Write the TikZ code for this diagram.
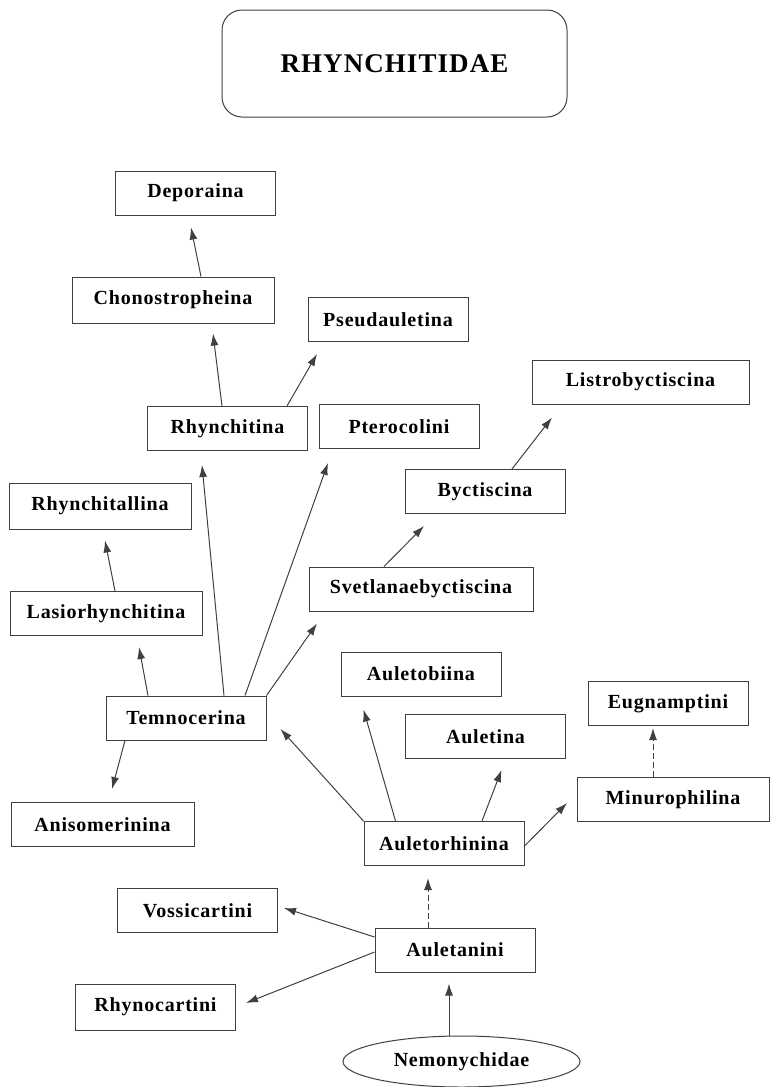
\documentclass[tikz,border=0pt]{standalone}
\usepackage{fontspec}
\setmainfont[LetterSpace=4]{Liberation Serif}
\usepackage{tikz}
\usetikzlibrary{calc,arrows.meta,shapes.geometric}
\tikzset{
    taxon/.style={draw=black!75, line width=0.5pt, minimum width=80pt, minimum height=22pt,
        inner sep=0pt, font=\fontsize{10}{12}\selectfont\bfseries},
    family/.style={taxon, ellipse, minimum width=118.5pt, minimum height=25.5pt},
    link/.style={draw=black!75, line width=0.5pt, -{Latex[length=6pt,width=4pt]}},
    maybe/.style={link, dash pattern=on 3pt off 1.5pt},
}
\begin{document}
\begin{tikzpicture}[x=0.5pt, y=-0.5pt]
\useasboundingbox (0,0) rectangle (771,1087);
\node[taxon, rounded corners=10pt, minimum width=172.5pt, minimum height=53.5pt,
    font=\fontsize{13.5}{16}\selectfont\bfseries] (fam) at (394.5,63.5) {RHYNCHITIDAE};
% upper part of the tree
\node[taxon] (dep) at (195.5,193) {Deporaina};
\node[taxon, minimum width=101pt, minimum height=23pt] (chono) at (173,300) {Chonostropheina};
\node[taxon] (pseud) at (388,319.5) {Pseudauletina};
\node[taxon, minimum width=108.5pt] (listro) at (640.5,382) {Listrobyctiscina};
\node[taxon] (rhy) at (227.5,428.5) {Rhynchitina};
\node[taxon] (ptero) at (399,426.5) {Pterocolini};
\node[taxon, minimum width=91pt, minimum height=23pt] (rhall) at (100,506) {Rhynchitallina};
\node[taxon] (byct) at (485,491.5) {Byctiscina};
\node[taxon, minimum width=112pt] (svet) at (421,589) {Svetlanaebyctiscina};
\node[taxon, minimum width=96pt] (lasio) at (106,613.5) {Lasiorhynchitina};
\node[taxon] (aulb) at (421,674) {Auletobiina};
\node[taxon] (eug) at (668,703.5) {Eugnamptini};
\node[taxon] (temn) at (186,718) {Temnocerina};
\node[taxon] (auletina) at (485.5,736.5) {Auletina};
\node[taxon, minimum width=96pt] (minur) at (673,799.5) {Minurophilina};
\node[taxon, minimum width=91.5pt] (aniso) at (102.5,824.5) {Anisomerinina};
% lower part
\node[taxon] (aulr) at (444,843.5) {Auletorhinina};
\node[taxon] (voss) at (197.5,910.5) {Vossicartini};
\node[taxon] (aulet) at (455,950) {Auletanini};
\node[taxon, minimum height=23pt] (rhyno) at (155.5,1007) {Rhynocartini};
\node[family] (nemo) at (461.5,1061.5) {Nemonychidae};

\draw[link] ($(chono.north)+(28,0)$) -- ($(dep.south)+(-4.5,12)$);
\draw[link] ($(rhy.north)+(-5.5,0)$) -- ($(chono.south)+(40,10)$);
\draw[link] ($(rhy.north)+(59.5,0)$) -- ($(pseud.south)+(-71,12)$);
\draw[link] ($(byct.north)+(27,0)$) -- ($(listro.south)+(-88.5,13)$);
\draw[link] ($(temn.north)+(38,0)$) -- ($(rhy.south)+(-25.5,14)$);
\draw[link] ($(temn.north)+(59,0)$) -- ($(ptero.south)+(-71,14)$);
\draw[link] ($(lasio.north)+(9,0)$) -- ($(rhall.south)+(5,11)$);
\draw[link] ($(svet.north)+(-37,0)$) -- ($(byct.south)+(-61,12)$);
\draw[link] ($(temn.north)+(-38,0)$) -- ($(lasio.south)+(33,11)$);
\draw[link] (temn.north east) -- ($(svet.south)+(-104,12)$);
\draw[link] ($(temn.south)+(-61,0)$) -- ($(aniso.north)+(9.5,-13)$);
\draw[link] (aulr.north west) -- ($(temn.east)+(14,11)$);
\draw[link] ($(aulr.north)+(-48.5,0)$) -- ($(aulb.south)+(-57.5,13)$);
\draw[link] ($(aulr.north)+(38,0)$) -- ($(auletina.south)+(16,11)$);
\draw[link] ($(aulr.east)+(0,2.5)$) -- ($(minur.west)+(-9.5,3.5)$);
\draw[maybe] ($(minur.north)+(-20,0)$) -- ($(eug.south)+(-15,2)$);
\draw[maybe] ($(aulet.north)+(-27,0)$) -- ($(aulr.south)+(-16,12)$);
\draw[link] ($(aulet.west)+(0,-13)$) -- ($(voss.east)+(6,-2.5)$);
\draw[link] ($(aulet.west)+(0,2)$) -- ($(rhyno.east)+(10,-4)$);
\draw[link] ($(nemo.north)+(-12.5,0)$) -- ($(aulet.south)+(-6,11)$);
\end{tikzpicture}
\end{document}
